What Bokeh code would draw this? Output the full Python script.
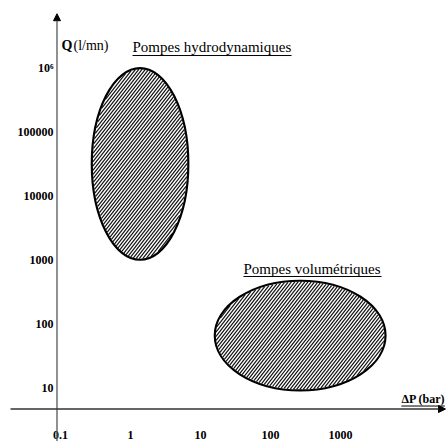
import numpy as np
from bokeh.plotting import figure
from bokeh.models import Range1d, Arrow, NormalHead
from bokeh.core.properties import value
from bokeh.embed import file_html
from bokeh.resources import INLINE

# ---- data ----
dp_ticks = [0.1, 1, 10, 100, 1000]
dp_tick_labels = ["0.1", "1", "10", "100", "1000"]
q_ticks = [10, 100, 1000, 10000, 100000, 1000000]
q_tick_labels = ["10", "100", "1000", "10000", "100000", "10\u2076"]

zone_names = ["Pompes hydrodynamiques", "Pompes volumétriques"]
zone_dp_min = [0.28, 16]
zone_dp_max = [6.7, 4400]
zone_q_min = [1000, 9]
zone_q_max = [1000000, 470]

x_title = "\u0394P (bar)"
y_title_q = "Q"
y_title_unit = "(l/mn)"

# ---- layout (log10 units) ----
PX_X = 70.0   # px per decade (x)
PX_Y = 63.9   # px per decade (y)
FONT = value("Liberation Serif")

p = figure(width=448, height=441, x_range=Range1d(-1.857, 4.543),
           y_range=Range1d(0.1557, 7.057), output_backend="svg",
           toolbar_location=None, min_border=0,
           x_axis_location=None, y_axis_location=None)
p.grid.visible = False
p.outline_line_color = None
p.background_fill_color = "white"
p.border_fill_color = "white"

axis_x_at = -1.05   # log10 dP where vertical axis stands
axis_y_at = 0.664   # log10 Q where horizontal axis stands

# axes with arrows
p.add_layout(Arrow(x_start=axis_x_at, y_start=0.1, x_end=axis_x_at, y_end=6.85,
                   line_color="#555555", line_width=1.3,
                   end=NormalHead(size=7, fill_color="black", line_color="black")))
p.add_layout(Arrow(x_start=-1.714, y_start=axis_y_at, x_end=4.5, y_end=axis_y_at,
                   line_color="#333333", line_width=1.3,
                   end=NormalHead(size=7, fill_color="black", line_color="black")))

# zones (ellipses)
lx0, lx1 = np.log10(zone_dp_min), np.log10(zone_dp_max)
ly0, ly1 = np.log10(zone_q_min), np.log10(zone_q_max)
cx, cy = (lx0 + lx1) / 2, (ly0 + ly1) / 2
w, h = lx1 - lx0, ly1 - ly0
p.ellipse(x=cx, y=cy, width=w, height=h, fill_color="white", line_color=None)

# hatching (computed in pixel space, lines "/" clipped to each ellipse)
m = np.tan(np.radians(52))
step = 3.3
hx, hy = [], []
for i in range(len(cx)):
    a = w[i] / 2 * PX_X - 1
    b = h[i] / 2 * PX_Y - 1
    S = a + b / m
    for s in np.arange(-S, S, step):
        A = 1 / a**2 + m**2 / b**2
        B = -2 * m**2 * s / b**2
        C = m**2 * s**2 / b**2 - 1
        disc = B * B - 4 * A * C
        if disc <= 0:
            continue
        r = np.sqrt(disc)
        xs = np.array([(-B - r) / (2 * A), (-B + r) / (2 * A)])
        ys = m * (xs - s)
        hx.append(list(cx[i] + xs / PX_X))
        hy.append(list(cy[i] + ys / PX_Y))
p.multi_line(xs=hx, ys=hy, line_color="#111111", line_width=1.2)

p.ellipse(x=cx, y=cy, width=w, height=h, fill_color=None, line_color="black", line_width=2.2)

# tick labels
p.text(x=np.log10(dp_ticks), y=[0.25] * len(dp_ticks), text=dp_tick_labels,
       text_font=FONT, text_font_style="bold", text_font_size="12px",
       text_align="center", text_baseline="middle", text_color="black")
p.text(x=[-1.1] * len(q_ticks), y=np.log10(q_ticks), text=q_tick_labels,
       text_font=FONT, text_font_style="bold", text_font_size="12px",
       text_align="right", text_baseline="middle", text_color="black")

# zone labels (underlined)
lab_x = [0.029, 1.614]
lab_y = [6.322, 2.863]
ul_y = [6.196, 2.738]
lab_w_px = [159, 138]
p.text(x=lab_x, y=lab_y, text=zone_names, text_font=FONT, text_font_size="15px",
       text_align="left", text_baseline="middle", text_color="black")
p.segment(x0=lab_x, y0=ul_y,
          x1=[a + wd / PX_X for a, wd in zip(lab_x, lab_w_px)],
          y1=ul_y, line_color="black", line_width=1)

# axis titles
p.text(x=[-0.986], y=[6.353], text=[y_title_q], text_font=FONT, text_font_style="bold",
       text_font_size="14px", text_align="left", text_baseline="middle")
p.text(x=[-0.814], y=[6.353], text=[y_title_unit], text_font=FONT,
       text_font_size="14px", text_align="left", text_baseline="middle")
p.text(x=[3.87], y=[0.813], text=[x_title], text_font=FONT, text_font_style="bold",
       text_font_size="12px", text_align="left", text_baseline="middle")
p.segment(x0=[3.87], y0=[0.711], x1=[4.49], y1=[0.711], line_color="black", line_width=1)

open("out.html", "w").write(file_html(p, INLINE))
